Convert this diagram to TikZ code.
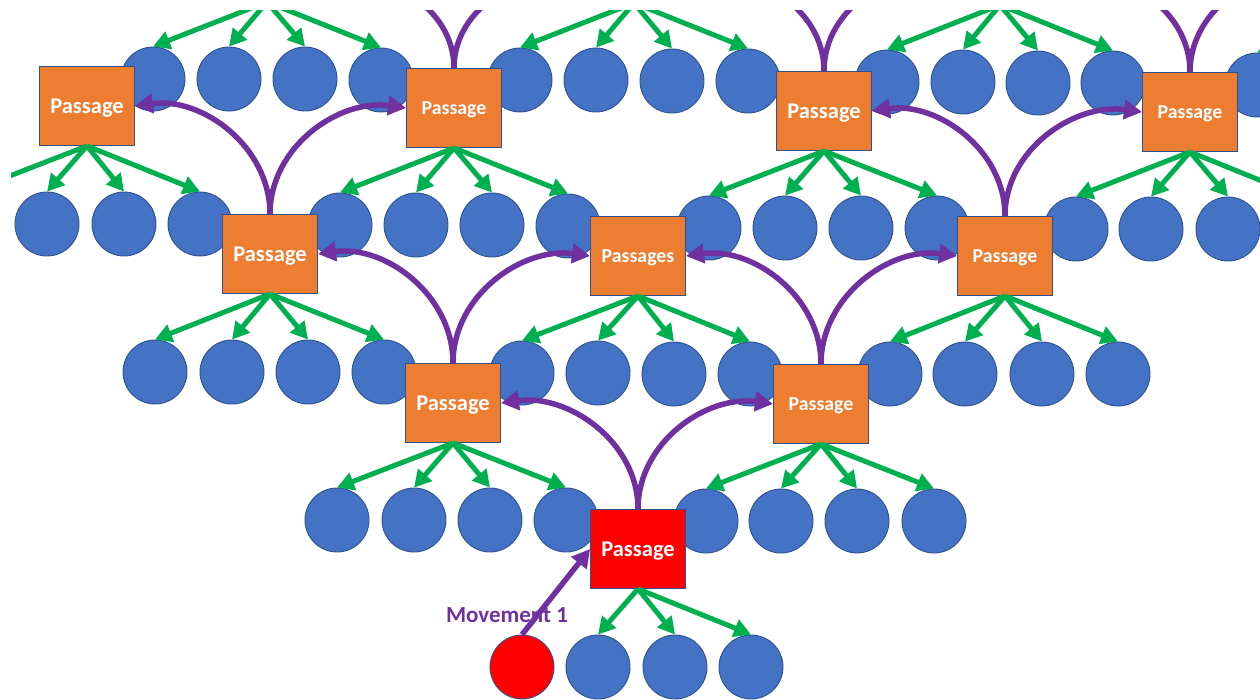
\documentclass[tikz,border=0pt]{standalone}
\usepackage{fontspec}
\setmainfont{Carlito}
\usetikzlibrary{arrows.meta}

\definecolor{passorange}{HTML}{ED7D31}
\definecolor{dotblue}{HTML}{4472C4}
\definecolor{edgeblue}{HTML}{2F528F}
\definecolor{fangreen}{HTML}{00B050}
\definecolor{movepurple}{HTML}{7030A0}
\definecolor{hotred}{HTML}{FF0000}

\tikzset{
  passage/.style={draw=edgeblue, line width=0.9pt, fill=passorange,
    minimum width=95pt, minimum height=79pt, inner sep=0pt, text=white,
    text depth=0pt, font=\bfseries\fontsize{22.5}{26}\selectfont},
  smalltext/.style={font=\bfseries\fontsize{19.8}{24}\selectfont},
  dot/.style={circle, draw=edgeblue, line width=0.9pt, fill=dotblue,
    minimum size=64pt, inner sep=0pt},
  fan/.style={draw=fangreen, line width=5pt, -{Triangle[length=17pt,width=18pt]}},
  move/.style={draw=movepurple, line width=5.5pt, -{Triangle[length=18pt,width=19pt]}},
  movelabel/.style={text=movepurple, font=\bfseries\fontsize{23}{27}\selectfont},
}

\begin{document}
\begin{tikzpicture}[x=1pt, y=1pt]
\useasboundingbox (0,0) rectangle (1260,-700);
\begin{scope}
\clip (11,-11) rectangle (1260,-700);

% the circles of every level
\foreach \n/\x/\y in {
  r0a/153/-79, r0b/229/-79, r0c/305/-79, r0d/381/-80,
  r0e/520/-80, r0f/596/-80, r0g/672/-81, r0h/748/-81,
  r0i/887/-82, r0j/963/-82, r0k/1038/-83, r0l/1113/-83, r0m/1257/-85,
  r2b/47/-224, r2c/124/-224, r2d/200/-224,
  r2e/340/-225, r2f/416/-225, r2g/492/-225, r2h/568/-226,
  r2i/709/-228, r2j/785/-228, r2k/861/-228, r2l/937/-228,
  r2m/1076/-229, r2n/1151/-229, r2o/1228/-229,
  r3a/155/-372, r3b/232/-372, r3c/308/-372, r3d/384/-372,
  r3e/522/-373, r3f/598/-373, r3g/674/-374, r3h/750/-374,
  r3i/890/-374, r3j/965/-374, r3k/1042/-374, r3l/1118/-374,
  r4a/337/-520, r4b/414/-520, r4c/490/-520, r4d/566/-520,
  r4e/706/-521, r4f/781/-521, r4g/857/-521, r4h/934/-521,
  r5b/598/-667, r5c/675/-667, r5d/751/-667}
  \node[dot] (\n) at (\x,\y) {};
\node[dot, fill=hotred] (start) at (522,-667) {};

% the passages
\node[passage] (A1) at (87,-106) {Passage};
\node[passage, smalltext] (A2) at (454,-108) {Passage};
\node[passage] (A3) at (824,-111) {Passage};
\node[passage, smalltext] (A4) at (1190,-112) {Passage};
\node[passage] (B1) at (270,-254) {Passage};
\node[passage, smalltext] (B2) at (638,-256) {Passages};
\node[passage, smalltext] (B3) at (1005,-256) {Passage};
\node[passage] (C1) at (453,-403) {Passage};
\node[passage, smalltext] (C2) at (821,-404) {Passage};
\node[passage, fill=hotred] (D) at (638,-549) {Passage};

% points beyond the visible frame
\coordinate (T1) at (267,-2);
\coordinate (T2) at (634,-3);
\coordinate (T3) at (1000,-5);
\coordinate (T4) at (1372,-7);
\coordinate (h2a) at (-29,-191);
\coordinate (h2p) at (1304,-198);
\coordinate (a2l) at (326,20);
\coordinate (a2r) at (582,20);
\coordinate (a3l) at (680,24);
\coordinate (a3r) at (960,24);
\coordinate (a4l) at (1046,25);
\coordinate (a4r) at (1326,25);

% green fans from each passage to its circles
\foreach \s/\t in {
  T1/r0a.north, T1/r0b.north, T1/r0c.north, T1/r0d.north,
  T2/r0e.north, T2/r0f.north, T2/r0g.north, T2/r0h.north,
  T3/r0i.north, T3/r0j.north, T3/r0k.north, T3/r0l.north,
  T4/r0m.north,
  A1.south/h2a, A1.south/r2b.north, A1.south/r2c.north, A1.south/r2d.north,
  A2.south/r2e.north, A2.south/r2f.north, A2.south/r2g.north, A2.south/r2h.north,
  A3.south/r2i.north, A3.south/r2j.north, A3.south/r2k.north, A3.south/r2l.north,
  A4.south/r2m.north, A4.south/r2n.north, A4.south/r2o.north, A4.south/h2p,
  B1.south/r3a.north, B1.south/r3b.north, B1.south/r3c.north, B1.south/r3d.north,
  B2.south/r3e.north, B2.south/r3f.north, B2.south/r3g.north, B2.south/r3h.north,
  B3.south/r3i.north, B3.south/r3j.north, B3.south/r3k.north, B3.south/r3l.north,
  C1.south/r4a.north, C1.south/r4b.north, C1.south/r4c.north, C1.south/r4d.north,
  C2.south/r4e.north, C2.south/r4f.north, C2.south/r4g.north, C2.south/r4h.north,
  D.south/r5b.north, D.south/r5c.north, D.south/r5d.north}
  \draw[fan] (\s) -- (\t);

% purple movements between passages
\node[movelabel] (mv) at (507,-615) {Movement 1};
\draw[move] (start.north) -- (D.west);
\draw[move] (D.north) to[out=90, in=8] (C1.east);
\draw[move] (D.north) to[out=90, in=172] (C2.west);
\draw[move] (C1.north) to[out=90, in=8] (B1.east);
\draw[move] (C1.north) to[out=90, in=172] (B2.west);
\draw[move] (C2.north) to[out=90, in=8] (B2.east);
\draw[move] (C2.north) to[out=90, in=172] (B3.west);
\draw[move] (B1.north) to[out=90, in=8] (A1.east);
\draw[move] (B1.north) to[out=90, in=172] (A2.west);
\draw[move] (B3.north) to[out=90, in=8] (A3.east);
\draw[move] (B3.north) to[out=90, in=172] (A4.west);
\draw[move] (A2.north) to[out=90, in=8] (a2l);
\draw[move] (A2.north) to[out=90, in=172] (a2r);
\draw[move] (A3.north) to[out=90, in=8] (a3l);
\draw[move] (A3.north) to[out=90, in=172] (a3r);
\draw[move] (A4.north) to[out=90, in=8] (a4l);
\draw[move] (A4.north) to[out=90, in=172] (a4r);
\end{scope}
\end{tikzpicture}
\end{document}
